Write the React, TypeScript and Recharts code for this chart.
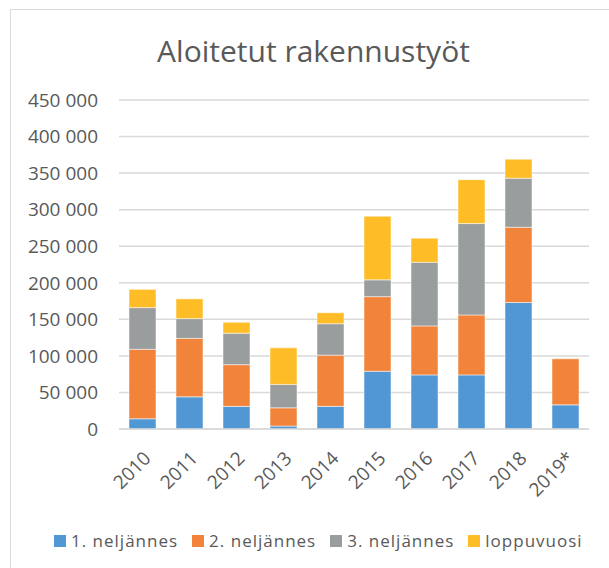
import { BarChart, Bar, XAxis, YAxis, CartesianGrid } from 'recharts';

const years = ['2010', '2011', '2012', '2013', '2014', '2015', '2016', '2017', '2018', '2019*'];
const q1 = [14000, 44000, 31000, 4000, 31000, 79000, 74000, 74000, 173000, 33000];
const q2 = [95000, 80000, 57000, 25000, 70000, 102000, 67000, 82000, 103000, 63000];
const q3 = [57000, 27000, 43000, 32000, 43000, 23000, 87000, 125000, 67000, 0];
const rest = [25000, 27000, 15000, 50000, 15000, 87000, 33000, 60000, 26000, 0];
const yTicks = [0, 50000, 100000, 150000, 200000, 250000, 300000, 350000, 400000, 450000];

const seriesNames = ['1. neljännes', '2. neljännes', '3. neljännes', 'loppuvuosi'];
const seriesColors = ['#5197d3', '#f2833a', '#9a9d9d', '#febd27'];

const data = years.map((year, i) => ({ year, q1: q1[i], q2: q2[i], q3: q3[i], rest: rest[i] }));
const keys = ['q1', 'q2', 'q3', 'rest'];

const textColor = '#595959';
const gridColor = '#d9d9d9';
const font = '"Open Sans", sans-serif';

const fmt = (v: number) => v.toLocaleString('en-US').replace(/,/g, ' ');

export default function App() {
  return (
    <div style={{ position: 'fixed', left: 0, top: 0, width: 609, height: 568, overflow: 'hidden', background: '#fff', fontFamily: font }}>
      <div style={{ position: 'absolute', left: 10, top: 9, width: 640, height: 600, border: '1px solid #d9d9d9' }} />
      <div style={{ position: 'absolute', left: 0, top: 30, width: 627, textAlign: 'center', fontSize: 30, color: textColor, lineHeight: 'normal' }}>
        Aloitetut rakennustyöt
      </div>
      <div style={{ position: 'absolute', left: 0, top: 0 }}>
        <BarChart width={609} height={568} data={data} margin={{ top: 100, right: 20, bottom: 79, left: 0 }} barSize={27} style={{ fontFamily: font }}>
          <CartesianGrid vertical={false} stroke={gridColor} strokeWidth={1.5} />
          <XAxis
            dataKey="year"
            height={60}
            axisLine={{ stroke: gridColor, strokeWidth: 1.5 }}
            tickLine={false}
            tickSize={0}
            tickMargin={21}
            angle={-45}
            interval={0}
            tick={{ fill: textColor, fontSize: 19, textAnchor: 'end' }}
          />
          <YAxis
            width={119}
            domain={[0, 450000]}
            ticks={yTicks}
            axisLine={false}
            tickLine={false}
            tickSize={0}
            tickMargin={21}
            tickFormatter={fmt}
            tick={{ fill: textColor, fontSize: 19 }}
          />
          {keys.map((k, i) => (
            <Bar key={k} dataKey={k} name={seriesNames[i]} stackId="a" fill={seriesColors[i]} stroke="#ffffff" strokeWidth={0.5} isAnimationActive={false} />
          ))}
        </BarChart>
      </div>
      <div style={{ position: 'absolute', left: 54, top: 529, display: 'flex', alignItems: 'center', fontSize: 17, letterSpacing: 1, color: textColor }}>
        {seriesNames.map((n, i) => (
          <div key={n} style={{ display: 'flex', alignItems: 'center', marginRight: 14 }}>
            <span style={{ display: 'inline-block', width: 12, height: 12, background: seriesColors[i], marginRight: 5 }} />
            <span>{n}</span>
          </div>
        ))}
      </div>
    </div>
  );
}
